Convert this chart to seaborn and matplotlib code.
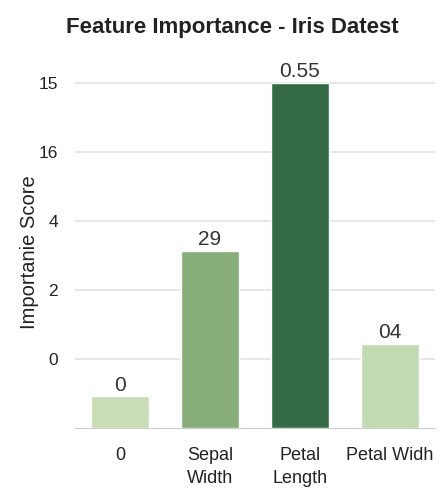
import numpy as np
import pandas as pd
import matplotlib
matplotlib.use('Agg')
import matplotlib.pyplot as plt
import seaborn as sns

# Data
features = ['0', 'Sepal\nWidth', 'Petal\nLength', 'Petal Widh']
scores = [0.46, 2.57, 5.0, 1.22]
bar_texts = ['0', '29', '0.55', '04']
colors = ['#c8ddb6', '#87ad78', '#346a45', '#c2dbb2']
ytick_pos = [1, 2, 3, 4, 5]
ytick_labels = ['0', '2', '4', '16', '15']

df = pd.DataFrame({'Feature': features, 'Score': scores})

sns.set_style('white')
plt.rcParams['font.family'] = ['Liberation Sans', 'DejaVu Sans']

fig = plt.figure(figsize=(4.43, 4.92), dpi=100)
ax = fig.add_axes([0.169, 0.130, 0.813, 0.716])

sns.barplot(data=df, x='Feature', y='Score', hue='Feature', palette=colors,
            width=0.65, legend=False, ax=ax, saturation=1)

for container, txt in zip(ax.containers, bar_texts):
    ax.bar_label(container, labels=[txt], padding=1, fontsize=15, color='#333333')

ax.set_xlim(-0.5, 3.5)
ax.set_ylim(0, 5.1)
ax.set_yticks(ytick_pos)
ax.set_yticklabels(ytick_labels)
ax.yaxis.grid(True, color='#e3e3e3', linewidth=1.2)
ax.set_axisbelow(True)
ax.tick_params(axis='y', length=0, labelsize=12.5, pad=12, labelcolor='#222222')
ax.tick_params(axis='x', length=0, labelsize=13, pad=14, labelcolor='#222222')
for lab in ax.get_xticklabels():
    lab.set_linespacing(1.45)
ax.set_xticks([-0.5, 0.5, 1.5, 2.5, 3.5], minor=True)
ax.tick_params(axis='x', which='minor', length=3, color='#cccccc', direction='out')

for s in ['top', 'right', 'left']:
    ax.spines[s].set_visible(False)
ax.spines['bottom'].set_color('#cccccc')

ax.set_xlabel('')
ax.set_ylabel('Importanie Score', fontsize=14.5, color='#222222', labelpad=0)
fig.text(0.525, 0.945, 'Feature Importance - Iris Datest', ha='center', va='center',
         fontsize=16, fontweight='bold', color='#222222')

fig.savefig('out.png', dpi=100)
